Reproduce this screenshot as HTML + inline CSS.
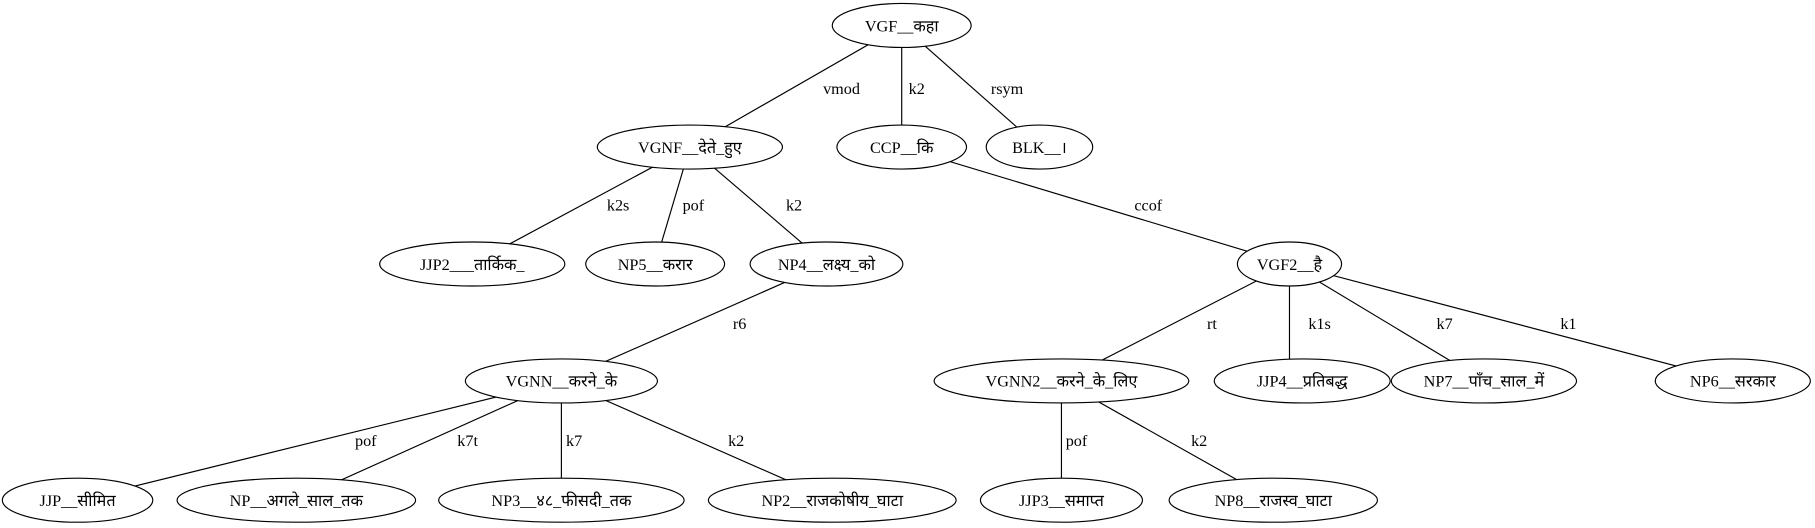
<!DOCTYPE html>
<html><head><meta charset="utf-8"><style>
html,body{margin:0;padding:0;background:#fff;width:1815px;height:528px;overflow:hidden}
svg{display:block}
text{font-family:"Liberation Serif","Noto Sans CJK SC",serif;font-size:14px;fill:#000}
</style></head><body>
<svg width="1815" height="528" viewBox="0 0 1568 456" preserveAspectRatio="none" xmlns="http://www.w3.org/2000/svg">
<g stroke="#000" stroke-width="1">
<line x1="779" y1="22" x2="596" y2="127"/>
<line x1="779" y1="22" x2="779" y2="127"/>
<line x1="779" y1="22" x2="898" y2="127"/>
<line x1="596" y1="127" x2="408" y2="228"/>
<line x1="596" y1="127" x2="566" y2="228"/>
<line x1="596" y1="127" x2="714" y2="228"/>
<line x1="779" y1="127" x2="1114" y2="228"/>
<line x1="714" y1="228" x2="485" y2="329"/>
<line x1="1114" y1="228" x2="917" y2="329"/>
<line x1="1114" y1="228" x2="1114" y2="329"/>
<line x1="1114" y1="228" x2="1282" y2="329"/>
<line x1="1114" y1="228" x2="1497" y2="329"/>
<line x1="485" y1="329" x2="67" y2="432"/>
<line x1="485" y1="329" x2="256" y2="432"/>
<line x1="485" y1="329" x2="485" y2="432"/>
<line x1="485" y1="329" x2="719" y2="432"/>
<line x1="917" y1="329" x2="917" y2="432"/>
<line x1="917" y1="329" x2="1100" y2="432"/>
</g>
<g fill="#fff" stroke="#000" stroke-width="1">
<ellipse cx="779" cy="22" rx="60" ry="19"/>
<ellipse cx="596" cy="127" rx="80" ry="19"/>
<ellipse cx="779" cy="127" rx="56" ry="19"/>
<ellipse cx="898" cy="127" rx="46" ry="19"/>
<ellipse cx="408" cy="228" rx="80" ry="19"/>
<ellipse cx="566" cy="228" rx="60" ry="19"/>
<ellipse cx="714" cy="228" rx="66" ry="19"/>
<ellipse cx="1114" cy="228" rx="45" ry="19"/>
<ellipse cx="485" cy="329" rx="83" ry="19"/>
<ellipse cx="917" cy="329" rx="110" ry="19"/>
<ellipse cx="1125" cy="329" rx="76" ry="19"/>
<ellipse cx="1282" cy="329" rx="80" ry="19"/>
<ellipse cx="1497" cy="329" rx="67" ry="19"/>
<ellipse cx="67" cy="432" rx="65" ry="19"/>
<ellipse cx="256" cy="432" rx="103" ry="19"/>
<ellipse cx="485" cy="432" rx="106" ry="19"/>
<ellipse cx="719" cy="432" rx="107" ry="19"/>
<ellipse cx="917" cy="432" rx="70" ry="19"/>
<ellipse cx="1100" cy="432" rx="90" ry="19"/>
</g>
<g text-anchor="middle">
<text x="779" y="27">VGF__कहा</text>
<text x="596" y="132">VGNF__देते_हुए</text>
<text x="779" y="132">CCP__कि</text>
<text x="898" y="132">BLK__।</text>
<text x="408" y="233">JJP2___तार्किक_</text>
<text x="566" y="233">NP5__करार</text>
<text x="714" y="233">NP4__लक्ष्य_को</text>
<text x="1114" y="233">VGF2__है</text>
<text x="485" y="334">VGNN__करने_के</text>
<text x="917" y="334">VGNN2__करने_के_लिए</text>
<text x="1125" y="334">JJP4__प्रतिबद्ध</text>
<text x="1282" y="334">NP7__पाँच_साल_में</text>
<text x="1497" y="334">NP6__सरकार</text>
<text x="67" y="437">JJP__सीमित</text>
<text x="256" y="437">NP__अगले_साल_तक</text>
<text x="485" y="437">NP3__४८_फीसदी_तक</text>
<text x="719" y="437">NP2__राजकोषीय_घाटा</text>
<text x="917" y="437">JJP3__समाप्त</text>
<text x="1100" y="437">NP8__राजस्व_घाटा</text>
</g>
<g text-anchor="middle">
<text x="727" y="81">vmod</text>
<text x="792" y="81">k2</text>
<text x="870" y="81">rsym</text>
<text x="534" y="182">k2s</text>
<text x="599" y="182">pof</text>
<text x="686" y="182">k2</text>
<text x="992" y="182">ccof</text>
<text x="639" y="284">r6</text>
<text x="1047" y="284">rt</text>
<text x="1140" y="284">k1s</text>
<text x="1248" y="284">k7</text>
<text x="1355" y="284">k1</text>
<text x="316" y="385">pof</text>
<text x="404" y="385">k7t</text>
<text x="496" y="385">k7</text>
<text x="636" y="385">k2</text>
<text x="930" y="385">pof</text>
<text x="1036" y="385">k2</text>
</g>
</svg>
</body></html>
